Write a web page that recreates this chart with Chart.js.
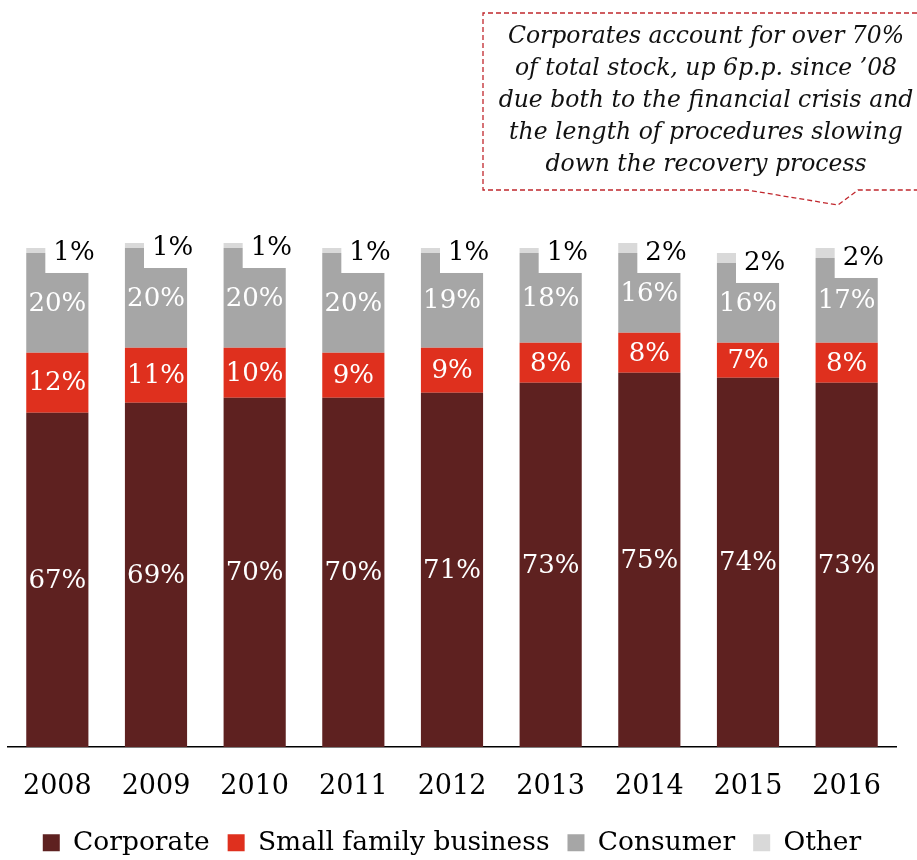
<!DOCTYPE html>
<html>
<head>
<meta charset="utf-8">
<script src="https://cdn.jsdelivr.net/npm/chart.js@4.4.1/dist/chart.umd.min.js"></script>
<style>
	html, body { margin: 0; padding: 0; background: #fff; }
	#wrap { width: 917px; height: 860px; position: relative; }
</style>
</head>
<body>
<div id="wrap"><canvas id="stockChart"></canvas></div>
<script>
let years = ["2008", "2009", "2010", "2011", "2012", "2013", "2014", "2015", "2016"];
let corporate = [67, 69, 70, 70, 71, 73, 75, 74, 73];
let smallFamily = [12, 11, 10, 9, 9, 8, 8, 7, 8];
let consumer = [20, 20, 20, 20, 19, 18, 16, 16, 17];
let other = [1, 1, 1, 1, 1, 1, 2, 2, 2];

let noteLines = [
	"Corporates account for over 70%",
	"of total stock, up 6p.p. since \u201908",
	"due both to the financial crisis and",
	"the length of procedures slowing",
	"down the recovery process",
];

const serif = "'DejaVu Serif', Georgia, serif";

// value labels: centred white text inside the bars, boxed black text above for "Other"
const barLabels = {
	id: "barLabels",
	afterDatasetsDraw(chart) {
		const c = chart.ctx;
		c.save();
		c.font = "26px " + serif;
		c.textAlign = "center";
		c.textBaseline = "middle";
		chart.data.datasets.forEach((ds, di) => {
			const meta = chart.getDatasetMeta(di);
			meta.data.forEach((bar, i) => {
				const txt = ds.data[i] + "%";
				if (di < 3) {
					c.fillStyle = "#fff";
					c.fillText(txt, bar.x, (bar.y + bar.base) / 2 + 1);
				} else {
					const w = c.measureText(txt).width;
					const left = bar.x - 12;
					c.fillStyle = "#fff";
					c.fillRect(left, bar.base - 24, w + 18, 44);
					c.fillStyle = "#000";
					c.fillText(txt, left + 8 + w / 2, bar.base);
				}
			});
		});
		c.restore();
	},
};

// dashed call-out box at the top right
const callout = {
	id: "callout",
	afterDraw(chart) {
		const c = chart.ctx;
		c.save();
		c.strokeStyle = "#c0272d";
		c.lineWidth = 1.3;
		c.setLineDash([5, 3]);
		c.beginPath();
		c.moveTo(917, 13);
		c.lineTo(483, 13);
		c.lineTo(483, 190);
		c.lineTo(747, 190);
		c.lineTo(838, 205);
		c.lineTo(858, 190);
		c.lineTo(917, 190);
		c.stroke();
		c.setLineDash([]);
		c.fillStyle = "#111";
		c.font = "italic 23.5px " + serif;
		c.textAlign = "center";
		c.textBaseline = "middle";
		noteLines.forEach((line, k) => {
			c.fillText(line, 706, 37 + k * 32);
		});
		c.restore();
	},
};

let stockChart = new Chart(document.getElementById("stockChart"), {
	type: "bar",
	data: {
		labels: years,
		datasets: [
			{ label: "Corporate", data: corporate, backgroundColor: "#5e2120" },
			{ label: "Small family business", data: smallFamily, backgroundColor: "#df301e" },
			{ label: "Consumer", data: consumer, backgroundColor: "#a6a6a6" },
			{ label: "Other", data: other, backgroundColor: "#d9d9d9" },
		],
	},
	options: {
		responsive: true,
		maintainAspectRatio: false,
		animation: false,
		layout: { padding: { top: 248, left: 8, right: 21, bottom: -6 } },
		datasets: {
			bar: { barPercentage: 0.63, categoryPercentage: 1, borderWidth: 0, clip: false },
		},
		scales: {
			x: {
				stacked: true,
				grid: { display: false, drawTicks: false },
				border: { display: true, color: "#000", width: 1.5 },
				ticks: { color: "#000", font: { family: serif, size: 27, lineHeight: 1.6 }, padding: 18.4 },
				// keep the axis band compact so the bars reach down to the baseline
				afterFit: (scale) => {
					scale.height = 64.5;
				},
			},
			y: { stacked: true, display: false, min: 0, max: 100 },
		},
		plugins: {
			legend: {
				position: "bottom",
				labels: {
					color: "#000",
					font: { family: serif, size: 26.5 },
					boxWidth: 17,
					boxHeight: 17,
					padding: 18,
				},
			},
			tooltip: { enabled: false },
		},
	},
	plugins: [barLabels, callout],
});
</script>
</body>
</html>
